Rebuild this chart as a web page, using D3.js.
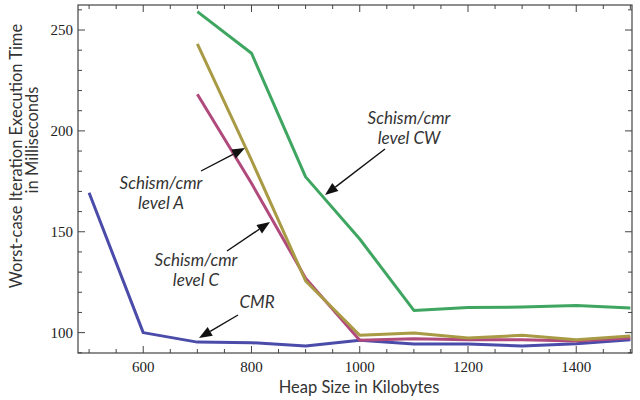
<!DOCTYPE html>
<html><head><meta charset="utf-8">
<script src="https://cdn.jsdelivr.net/npm/d3@7"></script>
<style>body{margin:0;background:#fff}svg{display:block}</style>
</head><body><svg id="c" width="640" height="400"></svg>
<script>
const heapSizes = [500,600,700,800,900,1000,1100,1200,1300,1400,1500];
const cmr      = [169.3,100,95.3,95,93.4,96.2,94.4,94.3,93.4,94.5,96.5];
const levelA   = [null,null,243.1,185.5,125.6,98.7,99.8,97.3,98.7,96.5,98.3];
const levelC   = [null,null,218.2,174.0,127.0,96.2,97.0,96.5,96.5,95.8,97.3];
const levelCW  = [null,null,259.1,238.5,177.2,146.4,111.0,112.4,112.7,113.4,112.2];
const seriesNames = ["CMR","Schism/cmr level C","Schism/cmr level A","Schism/cmr level CW"];
const seriesColors = ["#4b4ba9","#b14a7c","#a99a45","#3fa661"];
const xTicks = [600,800,1000,1200,1400];
const yTicks = [100,150,200,250];
const xLabel = "Heap Size in Kilobytes";
const yLabel = ["Worst-case Iteration Execution Time","in Milliseconds"];

const svg = d3.select("#c");
const L=78, R=632, T=5, B=353;
const x = d3.scaleLinear().domain([479.5,1503]).range([L,R]);
const y = d3.scaleLinear().domain([89.9,262.4]).range([B,T]);

const all = [cmr, levelC, levelA, levelCW];
const line = d3.line().defined(d=>d[1]!=null).x(d=>x(d[0])).y(d=>y(d[1]));
all.forEach((s,i)=>{
  svg.append("path").datum(heapSizes.map((h,j)=>[h,s[j]]))
    .attr("d",line).attr("fill","none").attr("stroke",seriesColors[i])
    .attr("stroke-width",3).attr("stroke-linejoin","round");
});

svg.append("rect").attr("x",L).attr("y",T).attr("width",R-L).attr("height",B-T)
  .attr("fill","none").attr("stroke","#444").attr("stroke-width",1.2);

const g = svg.append("g").attr("stroke","#444").attr("stroke-width",1);
d3.range(500,1501,50).forEach(v=>{
  const len = v%200===0?7:4;
  g.append("line").attr("x1",x(v)).attr("x2",x(v)).attr("y1",B).attr("y2",B-len);
  g.append("line").attr("x1",x(v)).attr("x2",x(v)).attr("y1",T).attr("y2",T+len);
});
d3.range(90,261,10).forEach(v=>{
  const len = v%50===0?7:4;
  g.append("line").attr("y1",y(v)).attr("y2",y(v)).attr("x1",L).attr("x2",L+len);
  g.append("line").attr("y1",y(v)).attr("y2",y(v)).attr("x1",R).attr("x2",R-len);
});

const serif = "'Liberation Serif','DejaVu Serif',serif";
const sans = "Lato,'Open Sans',sans-serif";
svg.selectAll(".xt").data(xTicks).enter().append("text")
  .attr("x",d=>x(d)).attr("y",372).attr("text-anchor","middle")
  .attr("font-family",serif).attr("font-size",15).attr("fill","#222").text(d=>d);
svg.selectAll(".yt").data(yTicks).enter().append("text")
  .attr("x",73).attr("y",d=>y(d)+5).attr("text-anchor","end")
  .attr("font-family",serif).attr("font-size",15).attr("fill","#222").text(d=>d);

svg.append("text").attr("x",359).attr("y",393).attr("text-anchor","middle")
  .attr("font-family",sans).attr("font-size",16.5).attr("fill","#333").text(xLabel);
svg.append("text").attr("transform","translate(22,156) rotate(-90)").attr("text-anchor","middle")
  .attr("font-family",sans).attr("font-size",16.5).attr("fill","#333").text(yLabel[0]);
svg.append("text").attr("transform","translate(38,140) rotate(-90)").attr("text-anchor","middle")
  .attr("font-family",sans).attr("font-size",16.5).attr("fill","#333").text(yLabel[1]);

function arrow(x1,y1,x2,y2){
  const a = Math.atan2(y2-y1,x2-x1), len=13, w=5;
  const bx = x2-len*Math.cos(a), by = y2-len*Math.sin(a);
  svg.append("line").attr("x1",x1).attr("y1",y1).attr("x2",bx).attr("y2",by)
    .attr("stroke","#111").attr("stroke-width",1.4);
  svg.append("path").attr("d",`M${x2},${y2}L${bx-w*Math.sin(a)},${by+w*Math.cos(a)}L${bx+w*Math.sin(a)},${by-w*Math.cos(a)}Z`)
    .attr("fill","#111");
}
function label(lines,cx,by){
  lines.forEach((t,i)=>svg.append("text").attr("x",cx).attr("y",by+i*20).attr("text-anchor","middle")
    .attr("font-family",sans).attr("font-style","italic")
    .attr("font-size",17).attr("fill","#333").text(t));
}
label(["Schism/cmr","level CW"],409,124); arrow(385,149,325,195);
label(["Schism/cmr","level A"],161,189); arrow(201,171,245,148);
label(["Schism/cmr","level C"],196,266); arrow(227,251,270,222);
label(["CMR"],257,308); arrow(238,315,199,338);
</script></body></html>
